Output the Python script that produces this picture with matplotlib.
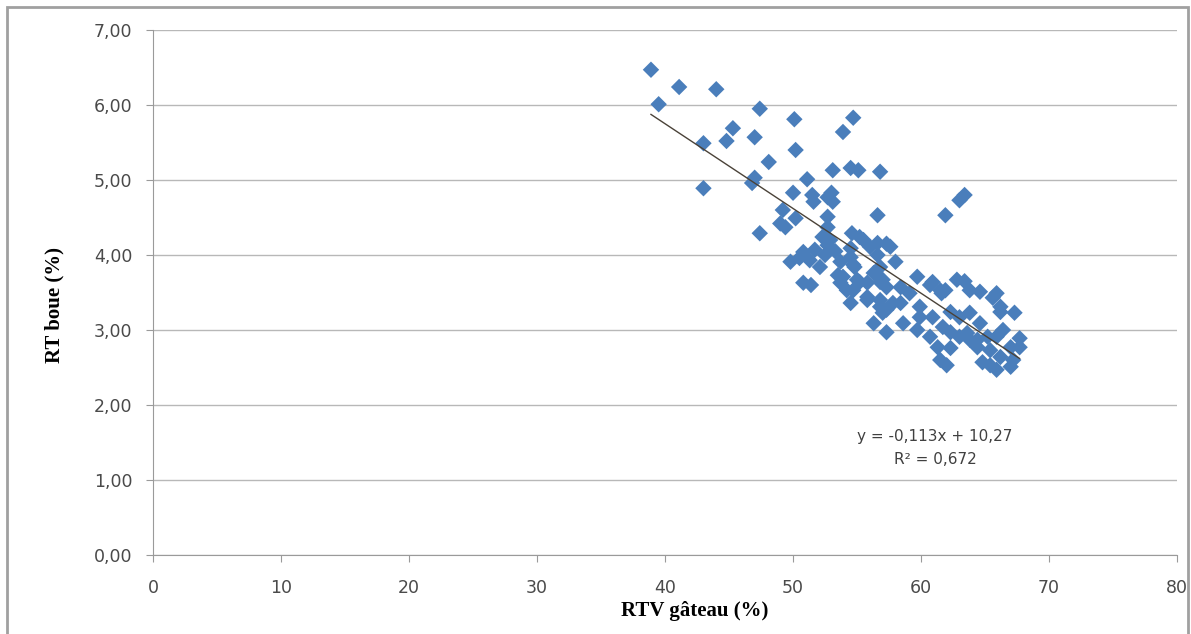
import matplotlib
matplotlib.use("Agg")
import matplotlib.pyplot as plt
from matplotlib.patches import Rectangle
from matplotlib.ticker import FuncFormatter

# RTV gateau (%) / RT boue (%), grouped by region
upper_x = [38.9, 41.1, 44.0, 39.5, 47.4, 50.1, 54.7, 53.9, 45.3, 44.8, 47.0, 43.0,
           50.2, 48.1, 47.0, 46.8, 43.0, 51.1, 53.1, 54.5, 55.1, 56.8, 50.0, 51.5,
           53.0, 52.7]
upper_y = [6.47, 6.24, 6.21, 6.01, 5.95, 5.81, 5.83, 5.64, 5.69, 5.52, 5.57, 5.49,
           5.40, 5.24, 5.03, 4.96, 4.89, 5.01, 5.13, 5.16, 5.13, 5.11, 4.83, 4.80,
           4.83, 4.77]

mid_x = [49.2, 50.2, 49.0, 49.4, 51.6, 53.1, 52.7, 52.7, 52.3, 52.7, 47.4, 50.8,
         49.8, 51.3, 52.1, 50.8, 51.4, 54.6, 55.2, 56.0, 56.6, 61.9, 63.0, 63.4,
         54.5, 54.8, 53.5, 55.0, 54.2, 56.8, 57.0, 55.8, 53.7, 54.7, 55.8, 54.5,
         55.8, 56.8, 56.3, 57.3, 54.7, 53.9, 55.2, 52.9, 53.7, 56.6, 51.7, 50.5,
         52.5, 53.3, 54.5, 55.5, 57.3]
mid_y = [4.60, 4.49, 4.42, 4.37, 4.71, 4.71, 4.51, 4.37, 4.24, 4.13, 4.29, 4.04,
         3.91, 3.93, 3.84, 3.63, 3.60, 4.29, 4.24, 4.11, 4.53, 4.53, 4.73, 4.80,
         3.97, 3.84, 3.73, 3.67, 3.53, 3.84, 3.67, 3.44, 3.63, 3.53, 3.63, 3.36,
         3.40, 3.31, 3.09, 2.97, 3.87, 3.71, 3.64, 4.20, 3.91, 4.00, 4.07, 3.96,
         4.00, 4.05, 4.09, 4.20, 4.15]

low_x = [56.6, 57.6, 58.0, 56.3, 59.7, 60.9, 62.8, 63.8, 61.6, 59.1, 56.8, 57.8,
         57.0, 59.9, 60.9, 62.3, 63.0, 63.8, 58.6, 57.3, 59.7, 60.7, 62.3, 63.6,
         64.4, 60.7, 61.5, 64.6, 65.9, 63.4, 66.2, 67.3, 64.6, 65.2, 65.9, 67.7,
         67.0, 66.2, 65.4, 67.0, 63.8, 61.7, 61.3, 61.5, 62.3, 63.0, 64.4, 65.4,
         66.4, 67.7, 65.9, 64.8, 67.2, 62.0, 65.6, 58.4, 59.9, 56.8, 57.3, 58.4,
         61.9, 66.2]
low_y = [4.16, 4.11, 3.91, 3.76, 3.71, 3.64, 3.67, 3.53, 3.49, 3.49, 3.40, 3.36,
         3.23, 3.31, 3.17, 3.24, 3.17, 3.23, 3.09, 3.27, 3.00, 2.91, 2.97, 2.96,
         2.87, 3.60, 3.53, 3.51, 3.49, 3.65, 3.24, 3.23, 3.09, 2.91, 2.91, 2.89,
         2.77, 2.64, 2.53, 2.51, 2.87, 3.04, 2.77, 2.60, 2.76, 2.91, 2.77, 2.73,
         3.00, 2.77, 2.47, 2.57, 2.60, 2.53, 3.43, 3.36, 3.17, 3.64, 3.57, 3.57,
         3.53, 3.31]

rtv = upper_x + mid_x + low_x
rt = upper_y + mid_y + low_y

# linear trend shown on the chart
slope = -0.113
intercept = 10.27
trend_x = [min(rtv), max(rtv)]
trend_y = [slope * v + intercept for v in trend_x]

fig = plt.figure(figsize=(11.91, 6.34), dpi=100)
ax = fig.add_axes([0.1285, 0.1246, 0.8598, 0.8281])

ax.scatter(rtv, rt, marker="D", s=70, color="#4a7ebb", edgecolors="none", zorder=3)
ax.plot(trend_x, trend_y, color="#4a4238", lw=1, zorder=4)

ax.set_xlim(0, 80)
ax.set_ylim(0, 7)
ax.set_xticks(range(0, 81, 10))
ax.set_yticks(range(0, 8))
ax.yaxis.set_major_formatter(FuncFormatter(lambda v, p: f"{v:.2f}".replace(".", ",")))

ax.grid(axis="y", color="#b8b8b8", lw=1)
ax.set_axisbelow(True)
for s in ["top", "right"]:
    ax.spines[s].set_visible(False)
for s in ["left", "bottom"]:
    ax.spines[s].set_color("#9a9a9a")
ax.tick_params(axis="both", colors="#9a9a9a", labelcolor="#4a4a4a",
               labelsize=12.5, length=5)
ax.tick_params(axis="y", pad=10)
ax.tick_params(axis="x", pad=12)

ax.set_xlabel("RTV gâteau (%)", fontfamily="Liberation Serif", fontweight="bold",
              fontsize=15)
ax.set_ylabel("RT boue (%)", fontfamily="Liberation Serif", fontweight="bold",
              fontsize=15)
ax.xaxis.set_label_coords(0.529, -0.088)
ax.yaxis.set_label_coords(-0.086, 0.476)

ax.text(61.1, 1.43, "y = -0,113x + 10,27\nR² = 0,672", ha="center", va="center",
        fontsize=11, color="#404040", multialignment="center", linespacing=1.65)

fig.patches.append(Rectangle((7 / 1191, -0.05), 1181 / 1191, 1.05 - 7 / 634,
                             transform=fig.transFigure, fill=False,
                             edgecolor="#a0a0a0", lw=2))

fig.savefig("out.png", dpi=100)
